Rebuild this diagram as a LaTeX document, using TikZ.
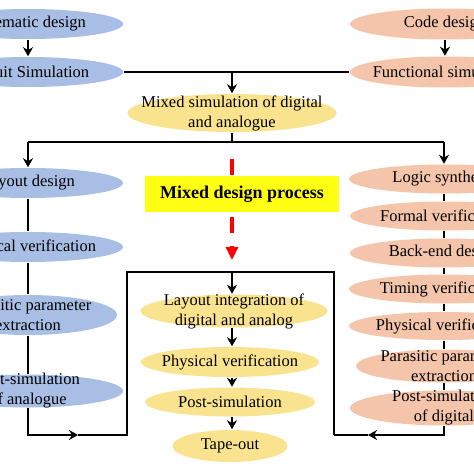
\documentclass[tikz,border=0pt]{standalone}
\usepackage{fontspec}
\setmainfont{Liberation Serif}
\usetikzlibrary{shapes.geometric,arrows.meta}
\definecolor{anablue}{RGB}{168,190,228}
\definecolor{digsalmon}{RGB}{244,197,170}
\definecolor{mixyellow}{RGB}{250,227,142}
\definecolor{procyellow}{RGB}{255,255,20}
\tikzset{
  blob/.style={ellipse,inner xsep=-40pt,inner ysep=-14pt,align=center,
    font=\fontsize{16.5}{20}\selectfont},
  ana/.style={blob,fill=anablue,minimum width=190pt,minimum height=30pt},
  dig/.style={blob,fill=digsalmon,minimum width=190pt,minimum height=29pt},
  mix/.style={blob,fill=mixyellow,minimum height=30pt},
  procbox/.style={rectangle,fill=procyellow,minimum width=194pt,minimum height=36pt,
    inner sep=0pt,font=\bfseries\fontsize{18}{22}\selectfont},
  arr/.style={-{Stealth[length=9pt,width=10pt]}}
}
\begin{document}
\begin{tikzpicture}[x=1pt,y=-1pt,line width=1.5pt]
      \useasboundingbox (0,0) rectangle (474,474);
      \clip (0,0) rectangle (474,474);
      \fill[white] (0,0) rectangle (474,474);
      % analogue side
      \draw
        (28,24) node[ana] (sch){Schematic design}
        (28,72) node[ana] (cir){Circuit Simulation}
        (28,183) node[ana] (lay){Layout design}
        (28,247) node[ana] (phya){Physical verification}
        (28,315) node[ana,minimum width=178pt,minimum height=40pt] (para){Parasitic parameter\\extraction}
        (28,391) node[ana,minimum height=33pt] (psa){Post-simulation\\of analogue};
      % digital side
      \draw
        (445,24) node[dig,minimum height=31pt] (code){Code design}
        (445,72) node[dig,minimum height=31pt] (fun){Functional simulation}
        (444,179) node[dig] (log){Logic synthesis}
        (444,216) node[dig,minimum width=188pt] (form){Formal verification}
        (444,253) node[dig,minimum width=188pt] (back){Back-end design}
        (444,289) node[dig] (tim){Timing verification}
        (444,326) node[dig,minimum height=28pt] (phyd){Physical verification}
        (444,366) node[dig,minimum width=176pt,minimum height=33pt] (parad){Parasitic parameter\\extraction}
        (444,408) node[dig,minimum width=188pt,minimum height=35pt] (psd){Post-simulation\\of digital};
      % mixed flow
      \draw
        (232,113) node[mix,minimum width=209pt,minimum height=38pt] (msim){Mixed simulation of digital\\and analogue}
        (234,311) node[mix,minimum width=187pt,minimum height=33pt] (lint){Layout integration of\\digital and analog}
        (230,362) node[mix,minimum width=178pt] (phym){Physical verification}
        (230,402) node[mix,minimum width=170pt,minimum height=29pt] (psm){Post-simulation}
        (230,446) node[mix,minimum width=115pt,minimum height=32pt] (tape){Tape-out};
      \coordinate (topmid) at (232,72);
      \coordinate (split) at (232,142);
      \coordinate (sl) at (28,142);
      \coordinate (sr) at (444,142);
      \coordinate (blm) at (78,435);
      \coordinate (bl) at (127,435);
      \coordinate (tr) at (334,272);
      \coordinate (tm) at (232,272);
      \coordinate (bm) at (334,435);
      \coordinate (brm) at (368,435);
      \coordinate (rtop) at (232,159);
      \coordinate (rbot) at (232,260);
      \begin{scope}[-]
        \draw[arr] (sch) to (cir);
        \draw[arr] (code) to (fun);
        \draw (cir.east) to (fun.west);
        \draw[arr] (topmid) to (msim.north);
        \draw (msim.south) to (split);
        \draw (sl) to (sr);
        \draw[arr] (sl) to (lay.north);
        \draw[arr] (sr) to (log.north);
        \draw (lay) to (phya);
        \draw (phya) to (para);
        \draw (para) to (psa);
        \draw (log) to (form);
        \draw (form) to (back);
        \draw (back) to (tim);
        \draw (tim) to (phyd);
        \draw (phyd) to (parad);
        \draw (parad) to (psd);
        \draw[arr] (psa.south) |- (blm);
        \draw (blm) -- (bl) |- (tr) -- (bm);
        \draw[arr] (psd.south -| sr) |- (brm);
        \draw (brm) -- (bm);
        \draw[arr] (tm) to (lint.north -| tm);
        \draw[arr] (lint.south -| tm) to (phym.north -| tm);
        \draw[arr] (phym.south -| tm) to (psm.north -| tm);
        \draw[arr] (psm.south -| tm) to (tape.north -| tm);
      \end{scope}
      \draw[red,line width=3.5pt,dash pattern=on 16pt off 13pt,
        -{Triangle[length=13pt,width=12pt]}] (rtop) -- (rbot);
      \node[procbox] (proc) at (242,194) {Mixed design process};
    \end{tikzpicture}
\end{document}
